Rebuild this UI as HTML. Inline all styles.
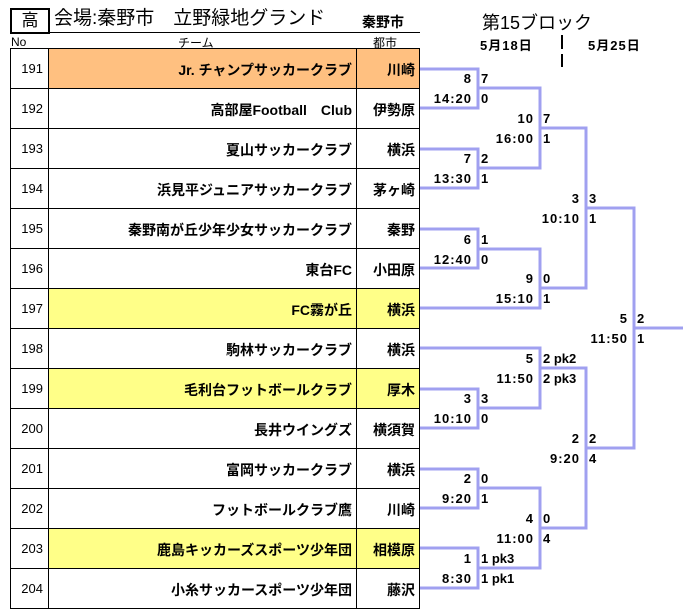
<!DOCTYPE html>
<html><head><meta charset="utf-8"><style>
body{margin:0;width:693px;height:613px;background:#fff;position:relative;overflow:hidden;font-family:"Liberation Sans","Noto Sans CJK JP",sans-serif;color:#000}
.a{position:absolute;white-space:nowrap}
.b{font-weight:bold}
.n{position:absolute;font-size:13px;font-weight:bold;letter-spacing:1px;text-align:right;width:60px;line-height:14px}
.s{position:absolute;font-size:13px;font-weight:bold;line-height:14px}
</style></head><body>
<div class="a" style="left:10px;top:8px;width:36px;height:22px;border:2px solid #000;font-size:17px;text-align:center;line-height:22px">高</div>
<div class="a" style="left:54px;top:7px;font-size:19px;line-height:24px">会場:秦野市　立野緑地グランド</div>
<div class="a b" style="left:362px;top:12px;font-size:14px">秦野市</div>
<div class="a" style="left:10px;top:32px;width:410px;height:1px;background:#000"></div>
<div class="a" style="left:11px;top:35px;font-size:12px">No</div>
<div class="a" style="left:178px;top:34px;font-size:12px">チーム</div>
<div class="a" style="left:373px;top:34px;font-size:12px">都市</div>
<div class="a" style="left:482px;top:9px;font-size:18px">第15ブロック</div>
<div class="a b" style="left:480px;top:35px;font-size:13px;letter-spacing:1px">5月18日</div>
<div class="a b" style="left:588px;top:35px;font-size:13px;letter-spacing:1px">5月25日</div>
<div class="a" style="left:561px;top:35px;width:2px;height:14px;background:#000"></div>
<div class="a" style="left:561px;top:54px;width:2px;height:13px;background:#000"></div>
<svg class="a" style="left:0;top:0" width="693" height="613">
<g id="rows"></g>
</svg>
<div id="t"></div>
<script>
var teams=[["191","Jr. チャンプサッカークラブ","川崎","#ffc080"],["192","高部屋Football　Club","伊勢原",""],["193","夏山サッカークラブ","横浜",""],["194","浜見平ジュニアサッカークラブ","茅ヶ崎",""],["195","秦野南が丘少年少女サッカークラブ","秦野",""],["196","東台FC","小田原",""],["197","FC霧が丘","横浜","#ffff88"],["198","駒林サッカークラブ","横浜",""],["199","毛利台フットボールクラブ","厚木","#ffff88"],["200","長井ウイングズ","横須賀",""],["201","富岡サッカークラブ","横浜",""],["202","フットボールクラブ鷹","川崎",""],["203","鹿島キッカーズスポーツ少年団","相模原","#ffff88"],["204","小糸サッカースポーツ少年団","藤沢",""]];
var h="";
teams.forEach(function(t,i){var y=49+40*i;
if(t[3])h+='<div class="a" style="left:49px;top:'+y+'px;width:371px;height:40px;background:'+t[3]+'"></div>';
h+='<div class="a" style="left:10px;top:'+(y+12)+'px;width:33px;text-align:right;font-size:13px">'+t[0]+'</div>';
h+='<div class="a b" style="left:49px;top:'+(y+11)+'px;width:303px;text-align:right;font-size:14px">'+t[1]+'</div>';
h+='<div class="a b" style="left:357px;top:'+(y+11)+'px;width:58px;text-align:right;font-size:14px">'+t[2]+'</div>';
});
h+='<div class="a" style="left:10px;top:48px;width:410px;height:561px;border:1px solid #000;box-sizing:border-box"></div>';
for(var i=1;i<14;i++)h+='<div class="a" style="left:10px;top:'+(48+40*i)+'px;width:410px;height:1px;background:#000"></div>';
h+='<div class="a" style="left:48px;top:48px;width:1px;height:561px;background:#000"></div>';
h+='<div class="a" style="left:356px;top:48px;width:1px;height:561px;background:#000"></div>';
var m=[[478,69,108,420,88,"8","14:20","7","0"],[478,149,188,420,168,"7","13:30","2","1"],[540,88,168,478,128,"10","16:00","7","1"],
[478,229,268,420,249,"6","12:40","1","0"],[540,249,308,478,288,"9","15:10","0","1"],[586,128,288,540,208,"3","10:10","3","1"],
[634,208,448,586,328,"5","11:50","2","1"],[540,348,408,478,368,"5","11:50","2 pk2","2 pk3"],[478,389,428,420,408,"3","10:10","3","0"],
[586,368,528,540,448,"2","9:20","2","4"],[478,469,508,420,488,"2","9:20","0","1"],[540,488,568,478,528,"4","11:00","0","4"],[478,548,588,420,568,"1","8:30","1 pk3","1 pk1"]];
var s='';var C='#a0a0f0';
m.forEach(function(a){s+='<path d="M'+a[3]+' '+a[1]+'H'+a[0]+'V'+a[2]+'H'+a[3]+'" fill="none" stroke="'+C+'" stroke-width="3"/>';
h+='<div class="n" style="left:'+(a[0]-66)+'px;top:'+(a[4]-16)+'px">'+a[5]+'</div>';
h+='<div class="n" style="left:'+(a[0]-66)+'px;top:'+(a[4]+4)+'px">'+a[6]+'</div>';
h+='<div class="s" style="left:'+(a[0]+3)+'px;top:'+(a[4]-16)+'px">'+a[7]+'</div>';
h+='<div class="s" style="left:'+(a[0]+3)+'px;top:'+(a[4]+4)+'px">'+a[8]+'</div>';});
s+='<path d="M420 308H540M420 348H540M634 328H683" stroke="'+C+'" stroke-width="3"/>';
document.getElementById('t').innerHTML=h;
document.querySelector('svg').innerHTML=s;
document.querySelector('svg').style.zIndex=5;
</script>
</body></html>
